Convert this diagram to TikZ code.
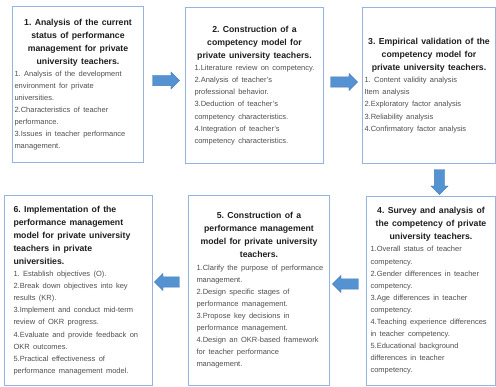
\documentclass[tikz,border=0pt]{standalone}
\usepackage{fontspec}
\setmainfont{Liberation Sans}
\usetikzlibrary{shapes.arrows}
\definecolor{boxblue}{RGB}{150,180,222}
\definecolor{arrowblue}{RGB}{84,146,210}
\definecolor{titlecol}{RGB}{30,30,30}
\definecolor{bodycol}{RGB}{80,80,80}
\newcommand{\ttl}{\fontsize{8.7}{13}\selectfont\bfseries\color{titlecol}}
\newcommand{\bdy}{\fontsize{7.5}{12.1}\selectfont\color{bodycol}}
\newcommand{\bx}[1]{\mbox{#1}}
\frenchspacing
\begin{document}
\begin{tikzpicture}[x=1pt,y=-1pt,
  box/.style={draw=boxblue, line width=1pt, fill=white, inner ysep=0pt, align=left, anchor=north west},
  blockarrow/.style={single arrow, fill=arrowblue, draw=arrowblue!85!black, line width=0.3pt,
    inner xsep=0pt, inner ysep=5pt, minimum width=0pt, single arrow head extend=3.5pt, minimum height=27pt},
  downarrow/.style={blockarrow, shape border rotate=270, inner xsep=5pt, inner ysep=0pt}]
\useasboundingbox (0,0) rectangle (496,387);

\node[box, text width=127pt, inner xsep=2pt, minimum height=156pt] (b1) at (12,6) {%
{\ttl\centering 1. Analysis of the current\\ status of performance\\ management for private\\ university teachers.\par}
{\bdy\raggedright \bx{1. Analysis of the development}\\ \bx{environment for private}\\ \bx{universities.}\\ \bx{2.Characteristics of teacher}\\ \bx{performance.}\\ \bx{3.Issues in teacher performance}\\ \bx{management.}\par}};

\node[box, text width=120pt, inner xsep=9pt, minimum height=156pt] (b2) at (185,7) {%
{\ttl\centering 2. Construction of a\\ competency model for\\ private university teachers.\par}
{\bdy\raggedright \bx{1.Literature review on competency.}\\ \bx{2.Analysis of teacher's}\\ \bx{professional behavior.}\\ \bx{3.Deduction of teacher's}\\ \bx{competency characteristics.}\\ \bx{4.Integration of teacher's}\\ \bx{competency characteristics.}\par}};

\node[box, text width=129pt, inner xsep=2pt, minimum height=156pt] (b3) at (362,7) {%
{\ttl\centering 3. Empirical validation of the\\ competency model for\\ private university teachers.\par}
{\bdy\raggedright \bx{1. Content validity analysis}\\ \bx{Item analysis}\\ \bx{2.Exploratory factor analysis}\\ \bx{3.Reliability analysis}\\ \bx{4.Confirmatory factor analysis}\par}};

\node[box, text width=121pt, inner xsep=4pt, minimum height=189pt] (b4) at (366,196) {%
{\ttl\centering 4. Survey and analysis of\\ the competency of private\\ university teachers.\par}
{\bdy\raggedright \bx{1.Overall status of teacher}\\ \bx{competency.}\\ \bx{2.Gender differences in teacher}\\ \bx{competency.}\\ \bx{3.Age differences in teacher}\\ \bx{competency.}\\ \bx{4.Teaching experience differences}\\ \bx{in teacher competency.}\\ \bx{5.Educational background}\\ \bx{differences in teacher}\\ \bx{competency.}\par}};

\node[box, text width=125pt, inner xsep=8pt, minimum height=190pt] (b5) at (188,195) {%
{\ttl\centering 5. Construction of a\\ performance management\\ model for private university\\ teachers.\par}
{\bdy\raggedright \bx{1.Clarify the purpose of performance}\\ \bx{management.}\\ \bx{2.Design specific stages of}\\ \bx{performance management.}\\ \bx{3.Propose key decisions in}\\ \bx{performance management.}\\ \bx{4.Design an OKR-based framework}\\ \bx{for teacher performance}\\ \bx{management.}\par}};

\node[box, text width=130pt, inner xsep=9pt, minimum height=190pt] (b6) at (4,195) {%
{\ttl\raggedright 6. Implementation of the\\ performance management\\ model for private university\\ teachers in private\\ universities.\par}
{\bdy\raggedright \bx{1. Establish objectives (O).}\\ \bx{2.Break down objectives into key}\\ \bx{results (KR).}\\ \bx{3.Implement and conduct mid-term}\\ \bx{review of OKR progress.}\\ \bx{4.Evaluate and provide feedback on}\\ \bx{OKR outcomes.}\\ \bx{5.Practical effectiveness of}\\ \bx{performance management model.}\par}};

\node[blockarrow] (a12) at (163.5,80.5) {};
\node[blockarrow] (a23) at (341.5,82) {};
\node[downarrow, minimum height=25pt] (a34) at (439.5,179.5) {};
\node[blockarrow, shape border rotate=180, minimum height=26pt] (a45) at (348,284) {};
\node[blockarrow, shape border rotate=180, minimum height=25pt] (a56) at (169.5,282) {};
\end{tikzpicture}
\end{document}
